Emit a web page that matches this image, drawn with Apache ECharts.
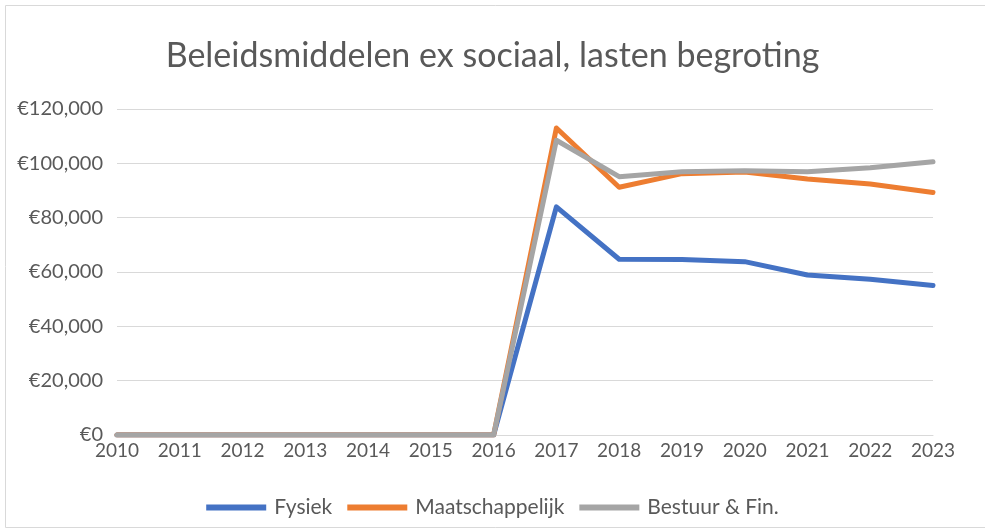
<!DOCTYPE html>
<html><head><meta charset="utf-8">
<script src="https://cdn.jsdelivr.net/npm/echarts@6/dist/echarts.min.js"></script>
<style>html,body{margin:0;padding:0;background:#fff}#c{width:985px;height:529px}</style>
</head><body><div id="c"></div>
<script>
const years = ['2010','2011','2012','2013','2014','2015','2016','2017','2018','2019','2020','2021','2022','2023'];
const fysiek = [0,0,0,0,0,0,0,84000,64700,64600,63800,58900,57300,55000];
const maatschappelijk = [0,0,0,0,0,0,0,113000,91200,96200,96800,94200,92400,89300];
const bestuur = [0,0,0,0,0,0,0,108500,95100,96900,97300,96900,98400,100600];
const seriesNames = ['Fysiek','Maatschappelijk','Bestuur & Fin.'];
const colors = ['#4472C4','#ED7D31','#A5A5A5'];

const font = 'Lato';
const chart = echarts.init(document.getElementById('c'));
const mk = (name, data, color) => ({
  name, type: 'line', data, showSymbol: false, symbol: 'none',
  lineStyle: {width: 5, color, cap: 'round', join: 'round'}, itemStyle: {color}
});
chart.setOption({
  animation: false,
  title: {text: 'Beleidsmiddelen ex sociaal, lasten begroting', left: 'center', top: 34,
    textStyle: {fontFamily: font, fontSize: 34, fontWeight: 'normal', color: '#595959'}},
  graphic: [{type: 'rect', shape: {x: 5.5, y: 5.5, width: 990, height: 522},
    style: {fill: 'none', stroke: '#d9d9d9', lineWidth: 1}}],
  grid: {left: 117, right: 52, top: 109, bottom: 94},
  legend: {bottom: 6, left: 'center', itemWidth: 60, itemHeight: 6, itemGap: 15,
    icon: 'rect',
    textStyle: {fontFamily: font, fontSize: 21, color: '#595959', padding: [0, 0, 0, 3]}},
  xAxis: {type: 'category', data: years, boundaryGap: false,
    axisLine: {lineStyle: {color: '#d9d9d9', width: 1}}, axisTick: {show: false},
    axisLabel: {fontFamily: font, fontSize: 19, color: '#595959', margin: 6}},
  yAxis: {type: 'value', min: 0, max: 120000, interval: 20000,
    axisLine: {show: false}, axisTick: {show: false},
    splitLine: {lineStyle: {color: '#d9d9d9', width: 1}},
    axisLabel: {fontFamily: font, fontSize: 20, color: '#595959', margin: 14,
      formatter: v => '€' + v.toLocaleString('en-US')}},
  series: [mk(seriesNames[0], fysiek, colors[0]), mk(seriesNames[1], maatschappelijk, colors[1]), mk(seriesNames[2], bestuur, colors[2])]
});
</script></body></html>
